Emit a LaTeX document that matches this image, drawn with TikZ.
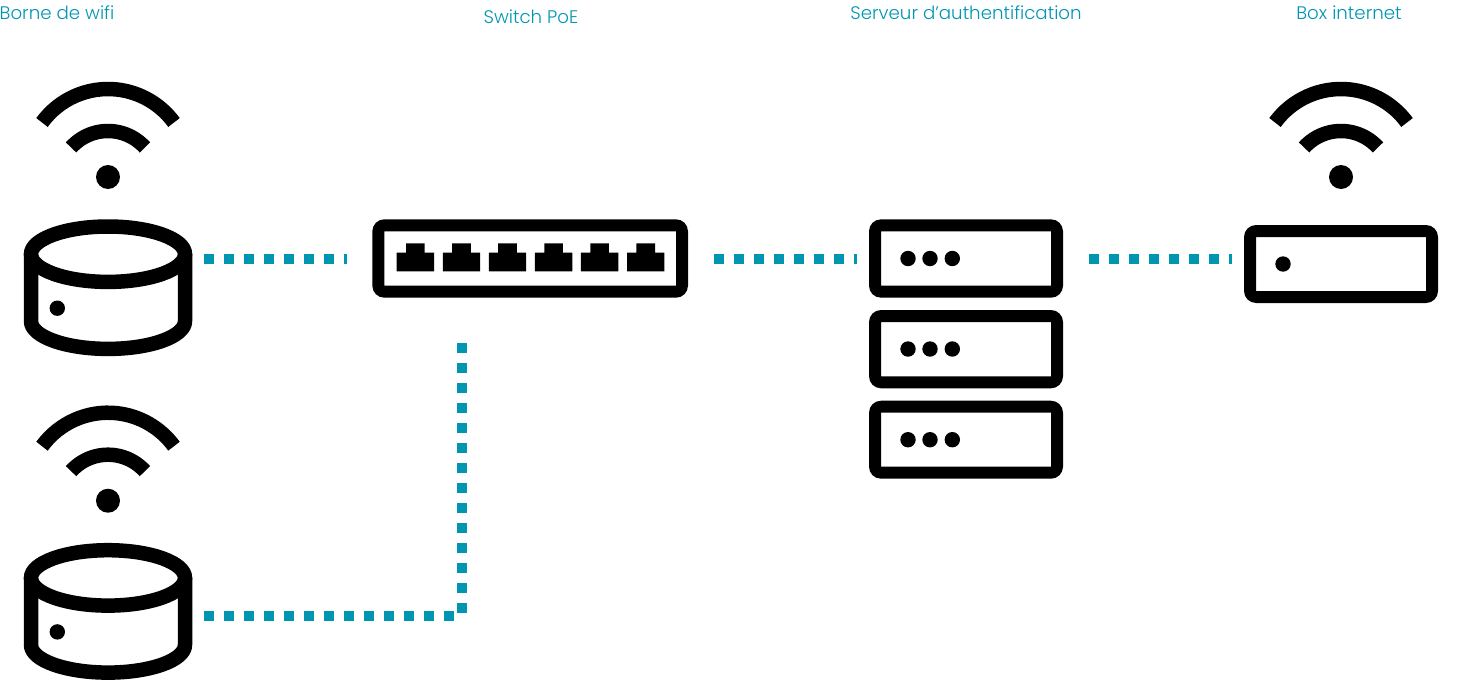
\documentclass[tikz,border=0pt]{standalone}
\usepackage{fontspec}
\setmainfont{Poppins}[UprightFont=* Light]
\definecolor{teal1}{RGB}{0,150,178}
\tikzset{
  x=1pt,y=-1pt,
  label text/.style={text=teal1,font=\fontsize{18.2}{20}\selectfont,inner sep=0pt,anchor=base},
  wave/.style={line width=14.5pt,black},
  shell/.style={fill=black,even odd rule},
  link/.style={line width=10pt,teal1,dash pattern=on 10pt off 10pt}
}
\newcommand{\wifiicon}[3]{% name, x, y of dot
  \coordinate (#1) at (#2,#3);
  \draw[wave] ($(#1)+(0,-6.2)+({-81.8*sin(53.8)},{-81.8*cos(53.8)})$) arc[start angle=143.8,end angle=36.2,radius=81.8,y radius=-81.8];
  \draw[wave] ($(#1)+(0,3.7)+({-49.7*sin(48)},{-49.7*cos(48)})$) arc[start angle=138,end angle=42,radius=49.7,y radius=-49.7];
  \fill (#1) circle[radius=12];
}
\newcommand{\boxshell}[5]{% name,x1,y1,x2,y2 outer
  \path[shell] [rounded corners=12pt] (#2,#3) rectangle (#4,#5) [sharp corners] (#2+12,#3+12) rectangle (#4-12,#5-12);
  \coordinate (#1) at ({(#2+#4)/2},{(#3+#5)/2});
}
\newcommand{\cylicon}[3]{% name, cx, top-ellipse centre y
  \coordinate (#1) at (#2,#3);
  \draw[line width=14.5pt,line join=round] ($(#1)+(-77,0)$) -- ($(#1)+(-77,67)$) arc[x radius=77,y radius=-27.7,start angle=180,end angle=360] -- ($(#1)+(77,0)$);
  \draw[line width=14.5pt] (#1) ellipse[x radius=77,y radius=27.7];
  \fill ($(#1)+(-50.7,54)$) circle[radius=7.7];
}
\newcommand{\porticon}[1]{%
  \fill (#1,252.7) -- ++(9.4,0) -- ++(0,-9.4) -- ++(18.6,0) -- ++(0,9.4) -- ++(9.4,0) -- ++(0,18.6) -- ++(-37.4,0) -- cycle;
}
\usetikzlibrary{calc}
\begin{document}
\begin{tikzpicture}
\useasboundingbox (0,0) rectangle (1461,680);
% labels
\node[label text] (l1) at (57,19) {Borne de wifi};
\node[label text] (l2) at (531,23.5) {Switch PoE};
\node[label text] (l3) at (966,19) {Serveur d’authentification};
\node[label text] (l4) at (1349,19) {Box internet};
% icons
\wifiicon{w1}{108}{177}
\cylicon{c1}{108}{254.2}
\wifiicon{w2}{108}{500.7}
\cylicon{c2}{108}{577.9}
\wifiicon{w3}{1341}{177}
% switch
\boxshell{sw}{372.3}{219.3}{688}{297.7}
\foreach \i in {0,...,5} {\pgfmathsetmacro{\px}{396.7+46.07*\i}\porticon{\px}}
% servers
\foreach \n/\a/\b/\d in {s1/219.3/297.7/258.5,s2/310/388.3/349,s3/400.7/478.7/439.7} {
  \boxshell{\n}{869}{\a}{1063}{\b}
  \foreach \x in {908,930,952.3} \fill (\x,\d) circle[radius=7.7];
}
% box
\boxshell{bx}{1244}{225}{1438}{303}
\fill (1283,264) circle[radius=7.7];
% connectors
\coordinate (a1) at (204,258.7); \coordinate (a2) at (346.5,258.7);
\coordinate (b1) at (714,258.7); \coordinate (b2) at (856.5,258.7);
\coordinate (d1) at (1089,258.7); \coordinate (d2) at (1231.7,258.7);
\coordinate (e1) at (204,615.7); \coordinate (e2) at (454.3,615.7);
\coordinate (f1) at (462,613.3); \coordinate (f2) at (462,343.3);
\draw[link] (a1) -- (a2);
\draw[link] (b1) -- (b2);
\draw[link] (d1) -- (d2);
\draw[link] (e1) -- (e2);
\draw[link] (f1) -- (f2);
\end{tikzpicture}
\end{document}
